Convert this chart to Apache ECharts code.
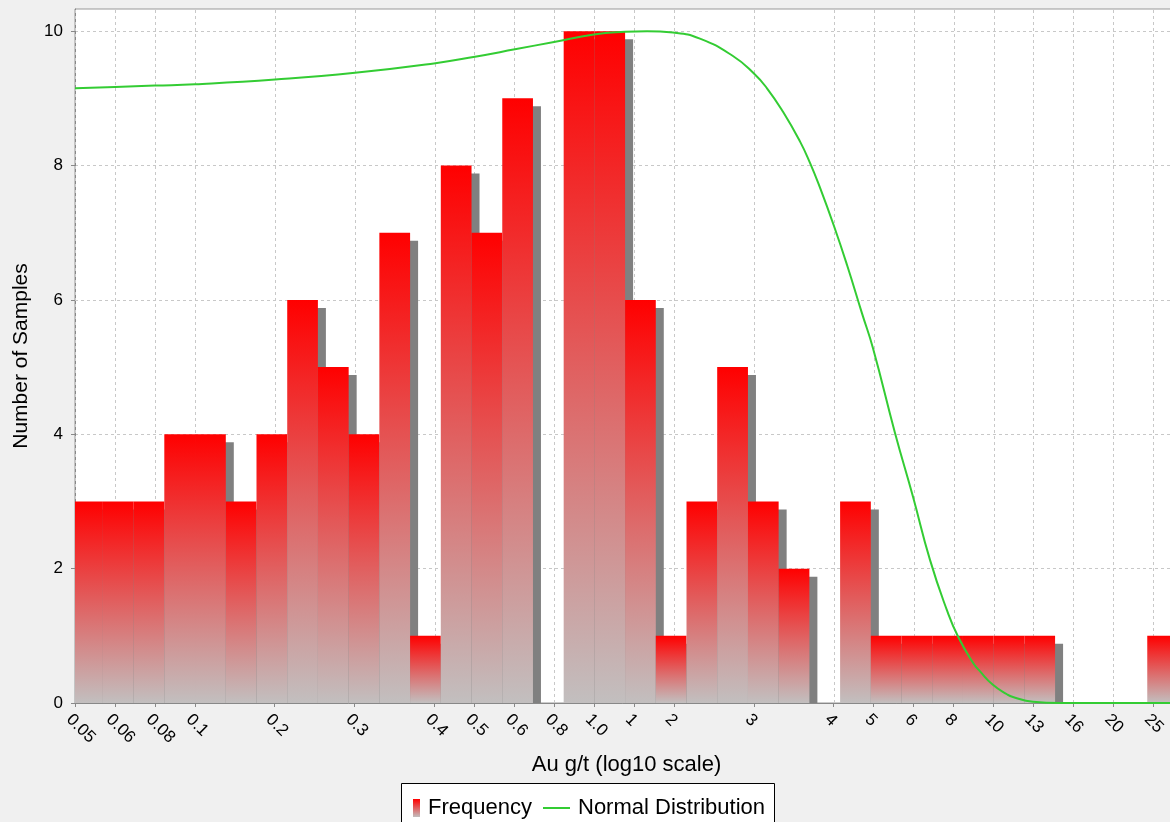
<!DOCTYPE html>
<html>
<head>
<meta charset="utf-8">
<title>Au g/t distribution</title>
<script src="https://cdn.jsdelivr.net/npm/echarts@6/dist/echarts.min.js"></script>
<style>
  html, body { margin: 0; padding: 0; background: #f0f0f0; }
  #chart { width: 1170px; height: 822px; }
</style>
</head>
<body>
<div id="chart"></div>
<script>
// Histogram bins (Au g/t), equal width in log10 space
const binEdges = [0.04918, 0.05873, 0.07013, 0.08368, 0.09989, 0.1193, 0.1424, 0.1700, 0.2029,
  0.2423, 0.2892, 0.3453, 0.4122, 0.4921, 0.5875, 0.7013, 0.8372, 0.9991, 1.193, 1.424, 1.700,
  2.029, 2.423, 2.892, 3.453, 4.122, 4.921, 5.874, 7.013, 8.372, 9.993, 11.93, 14.24, 17.00,
  20.30, 24.23, 28.93];
const binCounts = [3, 3, 3, 4, 4, 3, 4, 6, 5, 4, 7, 1, 8, 7, 9, 0, 10, 10, 6, 1, 3, 5, 3, 2, 0,
  3, 1, 1, 1, 1, 1, 1, 0, 0, 0, 1];

// Fitted normal distribution curve (g/t, samples)
const normalX = [0.05, 0.0630, 0.0793, 0.0999, 0.1585, 0.2513, 0.396, 0.502, 0.632, 0.792, 0.997,
  1.192, 1.354, 1.573, 1.837, 2.222, 2.508, 2.704, 2.966, 3.270, 3.465, 3.671, 3.979, 4.290,
  4.677, 4.983, 5.657, 6.276, 6.922, 7.623, 8.136, 8.87, 9.24, 9.95, 10.79, 11.17, 12.53,
  14.65, 18.45, 28.93];
const normalY = [9.15, 9.17, 9.19, 9.21, 9.28, 9.38, 9.52, 9.62, 9.73, 9.84, 9.95, 9.99, 10.0,
  9.98, 9.89, 9.63, 9.37, 9.15, 8.80, 8.36, 8.04, 7.67, 7.10, 6.52, 5.80, 5.28, 4.02, 3.07,
  2.13, 1.39, 0.99, 0.60, 0.47, 0.27, 0.13, 0.09, 0.02, 0.0, 0.0, 0.0];

// Axis ticks
const xAxisMin = 0.05;
const tickValues = [0.05, 0.06295, 0.07924, 0.09976, 0.1581, 0.2506, 0.3972, 0.5, 0.6295, 0.7924,
  0.9976, 1.256, 1.581, 2.506, 3.972, 5.0, 6.295, 7.924, 9.976, 12.56, 15.81, 19.91, 25.06];
const tickLabels = ['0.05', '0.06', '0.08', '0.1', '0.2', '0.3', '0.4', '0.5', '0.6', '0.8',
  '1.0', '1', '2', '3', '4', '5', '6', '8', '10', '13', '16', '20', '25'];
const yTicks = [0, 2, 4, 6, 8, 10];
const yAxisMax = 10.33;

const FONT = 'Liberation Sans, Arial, sans-serif';
const GRID_COLOR = '#c8c8c8';
const tickPos = tickValues.map(v => Math.log10(v));

function barGradient() {
  return new echarts.graphic.LinearGradient(0, 0, 0, 1, [
    { offset: 0, color: '#ff0000' },
    { offset: 1, color: '#c2bfbf' }
  ]);
}

const histData = binCounts.map((n, i) => [Math.log10(binEdges[i]), Math.log10(binEdges[i + 1]), n]);
const curveData = normalX.map((v, i) => [Math.log10(v), normalY[i]]);

const chart = echarts.init(document.getElementById('chart'), null, { renderer: 'canvas' });

chart.setOption({
  animation: false,
  backgroundColor: '#f0f0f0',
  textStyle: { fontFamily: FONT, color: '#000' },
  grid: {
    left: 75, top: 9, right: -8, bottom: 119,
    show: true, backgroundColor: '#ffffff', borderColor: '#999999', borderWidth: 1,
    outerBoundsMode: 'none'
  },
  graphic: [{
    type: 'rect', left: 401, top: 783,
    shape: { width: 373, height: 46 },
    style: { fill: '#ffffff', stroke: '#000000', lineWidth: 1 }
  }],
  legend: [{
    data: [{ name: 'Frequency', icon: 'rect' }],
    left: 413, top: 797, padding: 0, itemWidth: 7, itemHeight: 18,
    selectedMode: false,
    textStyle: { fontSize: 22, color: '#000', fontFamily: FONT, padding: [0, 0, 0, 3] }
  }, {
    data: [{ name: 'Normal Distribution', icon: 'path://M0,0h27v2h-27z' }],
    left: 543, top: 797, padding: 0, itemWidth: 27, itemHeight: 18,
    selectedMode: false,
    textStyle: { fontSize: 22, color: '#000', fontFamily: FONT, padding: [0, 0, 0, 3] }
  }],
  xAxis: {
    type: 'value',
    min: Math.log10(xAxisMin),
    max: Math.log10(binEdges[binEdges.length - 1]),
    name: 'Au g/t (log10 scale)',
    nameLocation: 'middle',
    nameGap: 41,
    nameTextStyle: { fontSize: 22, color: '#000', fontFamily: FONT },
    axisLine: { show: true, onZero: false, lineStyle: { color: '#888888' } },
    axisTick: { show: true, customValues: tickPos, length: 4, lineStyle: { color: '#888888' } },
    axisLabel: {
      customValues: tickPos,
      rotate: -45,
      verticalAlign: 'top',
      fontSize: 17,
      color: '#000',
      margin: 8,
      formatter: function (value) {
        const i = tickPos.findIndex(p => Math.abs(p - value) < 1e-6);
        return i >= 0 ? tickLabels[i] : '';
      }
    },
    splitLine: { show: false }
  },
  yAxis: {
    type: 'value',
    min: 0,
    max: yAxisMax,
    name: 'Number of Samples',
    nameLocation: 'middle',
    nameGap: 43,
    nameRotate: 90,
    nameTextStyle: { fontSize: 21, color: '#000', fontFamily: FONT },
    axisLine: { show: true, onZero: false, lineStyle: { color: '#888888' } },
    axisTick: { show: true, customValues: yTicks, length: 4, lineStyle: { color: '#888888' } },
    axisLabel: { customValues: yTicks, fontSize: 17, color: '#000', margin: 12 },
    splitLine: { show: true, lineStyle: { color: GRID_COLOR, type: [3, 3], width: 1 } }
  },
  series: [{
    // vertical grid lines at the labelled ticks only, kept behind the bars
    type: 'line',
    data: [],
    z: 1,
    silent: true,
    markLine: {
      z: 1,
      silent: true,
      symbol: ['none', 'none'],
      label: { show: false },
      lineStyle: { color: GRID_COLOR, type: [3, 3], width: 1 },
      emphasis: { disabled: true },
      data: tickPos.map(p => ({ xAxis: p }))
    }
  }, {
    name: 'Frequency',
    type: 'custom',
    data: histData,
    encode: { x: [0, 1], y: 2 },
    itemStyle: { color: barGradient() },
    z: 2,
    renderItem: function (params, api) {
      const n = api.value(2);
      if (!n) return null;
      const topLeft = api.coord([api.value(0), n]);
      const bottomRight = api.coord([api.value(1), 0]);
      const cs = params.coordSys;
      const bar = {
        x: topLeft[0], y: topLeft[1],
        width: bottomRight[0] - topLeft[0], height: bottomRight[1] - topLeft[1]
      };
      const shadow = echarts.graphic.clipRectByRect(
        { x: bar.x + 8, y: bar.y + 8, width: bar.width, height: bar.height }, cs);
      const body = echarts.graphic.clipRectByRect(bar, cs);
      const children = [];
      if (shadow) children.push({ type: 'rect', shape: shadow, style: { fill: '#808080' } });
      if (body) children.push({ type: 'rect', shape: body, style: { fill: barGradient() } });
      return { type: 'group', children: children };
    }
  }, {
    name: 'Normal Distribution',
    type: 'line',
    data: curveData,
    symbol: 'none',
    showSymbol: false,
    smooth: 0.5,
    z: 3,
    lineStyle: { color: '#33cc33', width: 2 },
    itemStyle: { color: '#33cc33' }
  }]
});
</script>
</body>
</html>
